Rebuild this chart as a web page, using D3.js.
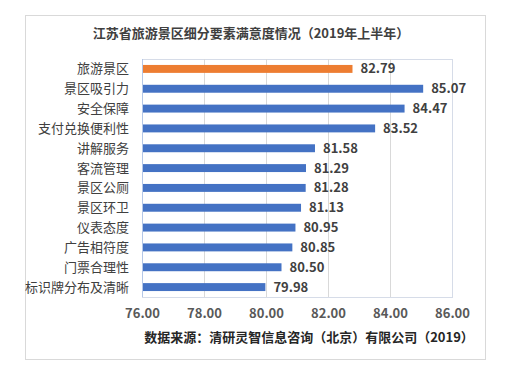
<!DOCTYPE html>
<html>
<head>
<meta charset="utf-8">
<script src="https://cdn.jsdelivr.net/npm/d3@7"></script>
<style>
  body { margin: 0; background: #fff; }
  svg { display: block; font-family: "Noto Sans CJK SC", "Noto Sans", sans-serif; }
</style>
</head>
<body>
<div id="chart"></div>
<script>
// data
var categories = ["旅游景区", "景区吸引力", "安全保障", "支付兑换便利性", "讲解服务", "客流管理",
                  "景区公厕", "景区环卫", "仪表态度", "广告相符度", "门票合理性", "标识牌分布及清晰"];
var values = [82.79, 85.07, 84.47, 83.52, 81.58, 81.29, 81.28, 81.13, 80.95, 80.85, 80.50, 79.98];
var ticks = [76, 78, 80, 82, 84, 86];

var W = 512, H = 376;
var plot = {left: 142, right: 452, top: 59, bottom: 297};

var svg = d3.select("#chart").append("svg")
    .attr("width", W)
    .attr("height", H);

// outer frame
svg.append("rect")
    .attr("x", 25.5).attr("y", 15.5)
    .attr("width", 460).attr("height", 344)
    .attr("fill", "#fff")
    .attr("stroke", "#d9d9d9")
    .attr("stroke-width", 1);

var x = d3.scaleLinear()
    .domain([76, 86])
    .range([plot.left, plot.right]);

var y = d3.scaleBand()
    .domain(categories)
    .range([plot.top, plot.bottom])
    .paddingInner(0.6)
    .paddingOuter(0.3);

// title
svg.append("text")
    .attr("x", 251).attr("y", 38)
    .attr("text-anchor", "middle")
    .style("font-size", "13px")
    .style("font-weight", "bold")
    .style("fill", "#404040")
    .text("江苏省旅游景区细分要素满意度情况（2019年上半年）");

// plot area border
svg.append("rect")
    .attr("x", plot.left + 0.5).attr("y", plot.top + 0.5)
    .attr("width", plot.right - plot.left).attr("height", plot.bottom - plot.top)
    .attr("fill", "none")
    .attr("stroke", "#d6dce8");

// gridlines
svg.append("g").selectAll("line")
    .data(ticks.slice(1, -1))
    .enter().append("line")
    .attr("x1", function(d) { return Math.round(x(d)) + 0.5 })
    .attr("x2", function(d) { return Math.round(x(d)) + 0.5 })
    .attr("y1", plot.top)
    .attr("y2", plot.bottom)
    .attr("stroke", "#d9d9d9");

// left axis line
svg.append("line")
    .attr("x1", plot.left + 0.5).attr("x2", plot.left + 0.5)
    .attr("y1", plot.top).attr("y2", plot.bottom)
    .attr("stroke", "#b4c7e7");

// bottom axis tick labels
var xAxis = d3.axisBottom(x)
    .tickValues(ticks)
    .tickSize(0)
    .tickPadding(0)
    .tickFormat(d3.format(".2f"));

var gx = svg.append("g")
    .attr("transform", "translate(0," + 318 + ")")
    .call(xAxis);
gx.select(".domain").remove();
gx.selectAll("text")
    .attr("dy", 0)
    .style("font-family", "'Noto Sans CJK SC', sans-serif")
    .style("font-size", "13px")
    .style("font-weight", "bold")
    .style("fill", "#595959");

// category labels
svg.append("g").selectAll("text")
    .data(categories)
    .enter().append("text")
    .attr("x", 129)
    .attr("y", function(d) { return y(d) + y.bandwidth() / 2 })
    .attr("dy", "0.35em")
    .attr("text-anchor", "end")
    .style("font-size", "13px")
    .style("fill", "#404040")
    .text(function(d) { return d });

// bars
svg.append("g").selectAll("rect")
    .data(values)
    .enter().append("rect")
    .attr("x", plot.left + 1)
    .attr("y", function(d, i) { return y(categories[i]) })
    .attr("width", function(d) { return x(d) - plot.left - 1 })
    .attr("height", y.bandwidth())
    .attr("fill", function(d, i) { return i == 0 ? "#ed7d31" : "#4472c4" });

// value labels
svg.append("g").selectAll("text")
    .data(values)
    .enter().append("text")
    .attr("x", function(d) { return x(d) + 8 })
    .attr("y", function(d, i) { return y(categories[i]) + y.bandwidth() / 2 })
    .attr("dy", "0.35em")
    .style("font-size", "13px")
    .style("font-weight", "bold")
    .style("fill", "#404040")
    .text(function(d) { return d3.format(".2f")(d) });

// source
svg.append("text")
    .attr("x", 309).attr("y", 342)
    .attr("text-anchor", "middle")
    .style("font-size", "13px")
    .style("font-weight", "bold")
    .style("fill", "#262626")
    .text("数据来源：清研灵智信息咨询（北京）有限公司（2019）");
</script>
</body>
</html>
